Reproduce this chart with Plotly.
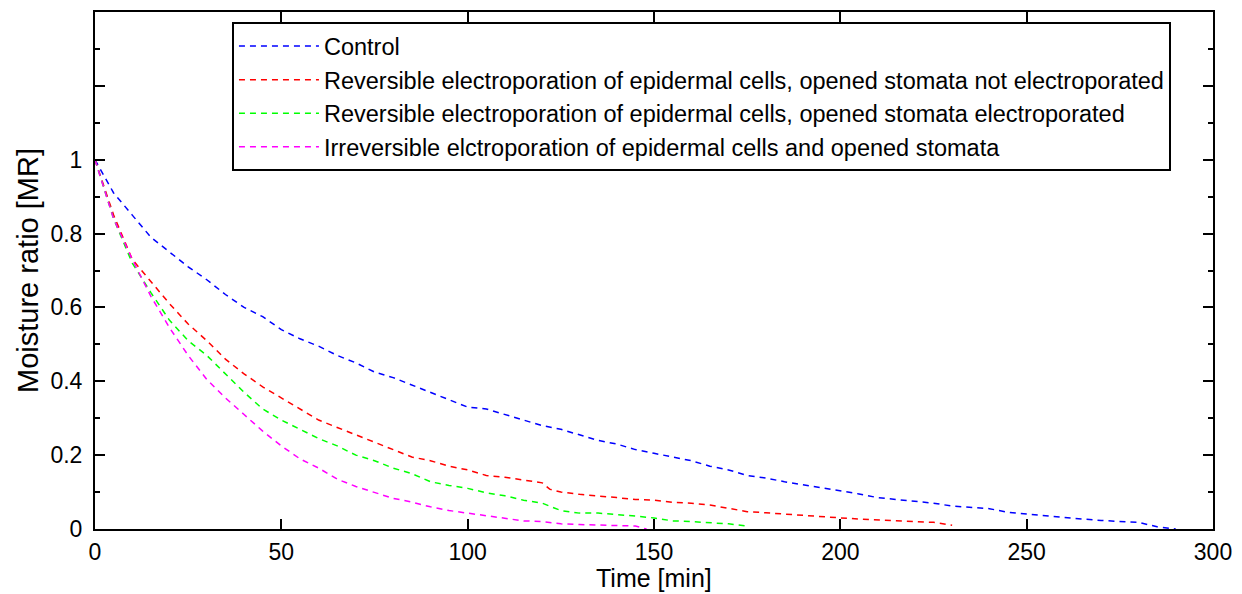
import plotly.graph_objects as go

# ---- data ----
t_control = [0, 5, 10, 15, 20, 25, 30, 35, 40, 45, 50, 55, 60, 65, 70, 75, 80, 85, 90, 95,
             100, 105, 110, 115, 120, 125, 130, 135, 140, 145, 150, 155, 160, 165, 170, 175,
             180, 185, 190, 195, 200, 205, 210, 215, 220, 225, 230, 235, 240, 245, 250, 255,
             260, 265, 270, 275, 280, 285, 290]
mr_control = [1.0, 0.91, 0.85, 0.79, 0.75, 0.71, 0.675, 0.635, 0.60, 0.575, 0.54, 0.515, 0.495,
              0.47, 0.45, 0.425, 0.41, 0.39, 0.37, 0.35, 0.33, 0.325, 0.31, 0.295, 0.28, 0.27,
              0.255, 0.24, 0.23, 0.215, 0.205, 0.195, 0.185, 0.17, 0.16, 0.145, 0.138, 0.128,
              0.12, 0.112, 0.103, 0.095, 0.085, 0.08, 0.075, 0.07, 0.062, 0.058, 0.055, 0.045,
              0.04, 0.035, 0.03, 0.027, 0.023, 0.02, 0.018, 0.006, 0.0]

t_rev_not = [0, 5, 10, 15, 20, 25, 30, 35, 40, 45, 50, 55, 60, 65, 70, 75, 80, 85, 90, 95,
             100, 105, 110, 115, 120, 122, 125, 130, 135, 140, 145, 150, 155, 160, 165, 170,
             175, 180, 185, 190, 195, 200, 205, 210, 215, 220, 225, 230]
mr_rev_not = [1.0, 0.85, 0.73, 0.67, 0.61, 0.555, 0.51, 0.46, 0.42, 0.385, 0.355, 0.325, 0.295,
              0.275, 0.255, 0.235, 0.215, 0.195, 0.185, 0.17, 0.16, 0.145, 0.14, 0.133, 0.125,
              0.108, 0.10, 0.094, 0.09, 0.085, 0.08, 0.078, 0.072, 0.07, 0.065, 0.055, 0.047,
              0.044, 0.04, 0.038, 0.034, 0.03, 0.027, 0.025, 0.022, 0.02, 0.018, 0.01]

t_rev_el = [0, 5, 10, 15, 20, 25, 30, 35, 40, 45, 50, 55, 60, 65, 70, 75, 80, 85, 90, 95,
            100, 105, 110, 115, 120, 125, 130, 135, 140, 145, 150, 155, 160, 165, 170, 175]
mr_rev_el = [1.0, 0.84, 0.72, 0.64, 0.565, 0.51, 0.47, 0.42, 0.37, 0.325, 0.295, 0.27, 0.245,
             0.225, 0.20, 0.185, 0.165, 0.15, 0.128, 0.118, 0.11, 0.098, 0.09, 0.078, 0.07,
             0.05, 0.043, 0.043, 0.04, 0.035, 0.03, 0.022, 0.02, 0.018, 0.014, 0.008]

t_irrev = [0, 5, 10, 15, 20, 25, 30, 35, 40, 45, 50, 55, 60, 65, 70, 75, 80, 85, 90, 95,
           100, 105, 110, 115, 120, 125, 130, 135, 140, 145, 148]
mr_irrev = [1.0, 0.84, 0.73, 0.63, 0.545, 0.47, 0.405, 0.355, 0.31, 0.265, 0.225, 0.19, 0.165,
            0.135, 0.115, 0.10, 0.083, 0.073, 0.06, 0.05, 0.043, 0.035, 0.03, 0.022, 0.02,
            0.014, 0.012, 0.01, 0.01, 0.008, 0.0]

series_names = [
    "Control",
    "Reversible electroporation of epidermal cells, opened stomata not electroporated",
    "Reversible electroporation of epidermal cells, opened stomata electroporated",
    "Irreversible elctroporation of epidermal cells and opened stomata",
]
series_colors = ["#0000FF", "#FF0000", "#00FF00", "#FF00FF"]

x_tickvals = [0, 50, 100, 150, 200, 250, 300]
y_tickvals = [0, 0.2, 0.4, 0.6, 0.8, 1.0, 1.2]
y_ticktext = ["0", "0.2", "0.4", "0.6", "0.8", "1", ""]

x_title = "Time [min]"
y_title = "Moisture ratio [MR]"

FONT = "Liberation Sans, Arial, sans-serif"

fig = go.Figure()
for name, color, xs, ys in zip(series_names, series_colors,
                               [t_control, t_rev_not, t_rev_el, t_irrev],
                               [mr_control, mr_rev_not, mr_rev_el, mr_irrev]):
    fig.add_trace(go.Scatter(x=xs, y=ys, mode="lines", name=name,
                             line=dict(color=color, width=1.5, dash="6px,5px")))

fig.update_layout(
    width=1242, height=594,
    margin=dict(l=95, r=29, t=12, b=65, autoexpand=False),
    paper_bgcolor="white", plot_bgcolor="white",
    font=dict(family=FONT, size=23, color="black"),
    showlegend=True,
    legend=dict(
        x=0.1225, y=0.98, xanchor="left", yanchor="top",
        bgcolor="white", bordercolor="black", borderwidth=2,
        font=dict(family=FONT, size=23.5, color="black"),
        itemwidth=80,
    ),
    annotations=[
        dict(text=x_title, xref="paper", yref="paper", x=0.5, y=-0.1257,
             xanchor="center", yanchor="bottom", showarrow=False,
             font=dict(family=FONT, size=25, color="black")),
    ],
)

fig.update_xaxes(
    range=[0, 300], tickvals=x_tickvals, ticks="inside", ticklen=10, tickwidth=1.5,
    tickcolor="black", showline=True, linecolor="black", linewidth=2, mirror="ticks",
    showgrid=False, zeroline=False, ticklabelstandoff=1, automargin=False,
    tickfont=dict(family=FONT, size=23),
)
fig.update_yaxes(
    range=[0, 1.4], tickvals=y_tickvals, ticktext=y_ticktext, ticks="inside", ticklen=10,
    tickwidth=1.5, tickcolor="black", showline=True, linecolor="black", linewidth=2,
    mirror="ticks", showgrid=False, zeroline=False, ticklabelstandoff=6, automargin=False,
    tickfont=dict(family=FONT, size=23),
    minor=dict(dtick=0.1, ticks="inside", ticklen=5, tickwidth=1.5, tickcolor="black",
               showgrid=False),
    title=dict(text=y_title, font=dict(family=FONT, size=29), standoff=3),
)

fig.write_html("out.html")
